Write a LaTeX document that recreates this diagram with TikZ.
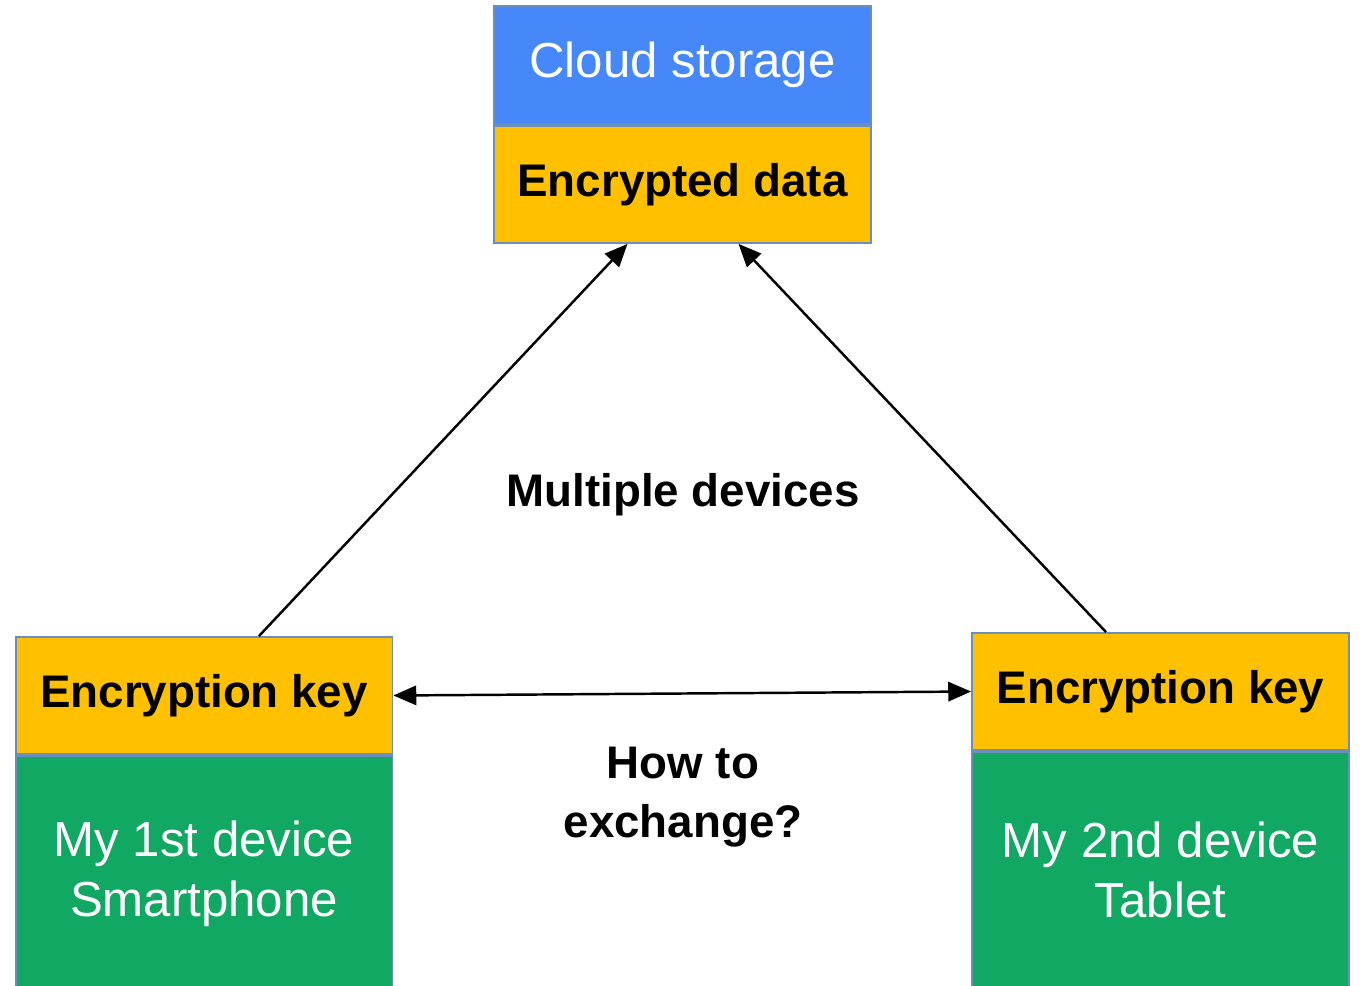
\documentclass[tikz,border=0pt]{standalone}
\usepackage{fontspec}
\setmainfont{Liberation Sans}
\usetikzlibrary{arrows.meta,positioning}
\definecolor{cloudblue}{HTML}{4688FA}
\definecolor{keyyellow}{HTML}{FFC000}
\definecolor{devgreen}{HTML}{10A862}
\definecolor{edgeblue}{HTML}{6A8FBF}
\begin{document}
\begin{tikzpicture}[x=0.02cm, y=-0.02cm,
	box/.style={draw=edgeblue, line width=1.1pt, minimum width=7.54cm, inner sep=0pt, align=center},
	whitetext/.style={text=white, font=\fontsize{28}{34}\selectfont},
	blacktext/.style={text=black, font=\bfseries\fontsize{26}{34}\selectfont},
	link/.style={line width=1.4pt, -{Triangle[length=13pt, width=11pt]}}]
	\clip (0,0) rectangle (1363,985);
	% cloud on top
	\node[box, whitetext, fill=cloudblue, minimum height=2.36cm] (cloud) at (682.5,65) {Cloud storage};
	\node[box, blacktext, fill=keyyellow, minimum height=2.34cm, below=0pt of cloud] (data) {Encrypted data};
	% first device
	\node[box, blacktext, fill=keyyellow, minimum height=2.34cm] (keyA) at (204,695.5) {Encryption key};
	\node[box, whitetext, fill=devgreen, minimum height=4.72cm, below=0pt of keyA] (devA) {My 1st device\\Smartphone};
	% second device
	\node[box, blacktext, fill=keyyellow, minimum height=2.34cm] (keyB) at (1160.5,691.5) {Encryption key};
	\node[box, whitetext, fill=devgreen, minimum height=4.72cm, below=0pt of keyB] (devB) {My 2nd device\\Tablet};
	% labels
	\node[blacktext] (multi) at (683,495) {Multiple devices};
	\node[blacktext, align=center] (how) at (683,797) {How to\\exchange?};
	% arrows
	\draw[link] ([xshift=1.1cm]keyA.north) -- ([xshift=-1.1cm]data.south);
	\draw[link] ([xshift=-1.09cm]keyB.north) -- ([xshift=1.12cm]data.south);
	\draw[link, {Triangle[length=13pt, width=11pt]}-{Triangle[length=13pt, width=11pt]}] (keyA.east) -- (keyB.west);
\end{tikzpicture}
\end{document}
